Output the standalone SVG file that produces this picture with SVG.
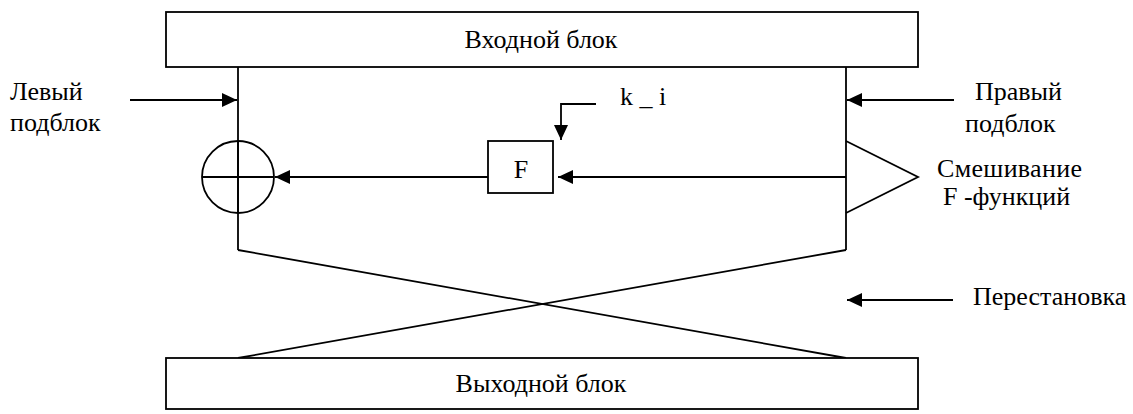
<svg xmlns="http://www.w3.org/2000/svg" width="1133" height="414" viewBox="0 0 1133 414">
<style>
.s{fill:none;stroke:#000;stroke-width:1.8}
.b{fill:#fff;stroke:#000;stroke-width:1.8}
text{font-family:'Liberation Serif','Times New Roman','DejaVu Serif',serif;font-size:26px;fill:#000}
.m{text-anchor:middle}
</style>
<defs>
<marker id="ah" markerUnits="userSpaceOnUse" markerWidth="16" markerHeight="14" refX="15" refY="7" orient="auto">
<path d="M0,0 L15,7 L0,14 Z" fill="#000"/>
</marker>
</defs>
<rect width="1133" height="414" fill="#fff"/>
<g id="connectors">
<line class="s" x1="238" y1="67" x2="238" y2="250"/>
<line class="s" x1="846" y1="67" x2="846" y2="250"/>
<line class="s" x1="238" y1="250" x2="846" y2="358"/>
<line class="s" x1="846" y1="250" x2="238" y2="358"/>
<line class="s" x1="130" y1="100" x2="237" y2="100" marker-end="url(#ah)"/>
<line class="s" x1="954" y1="100" x2="847" y2="100" marker-end="url(#ah)"/>
<line class="s" x1="488" y1="177" x2="275" y2="177" marker-end="url(#ah)"/>
<line class="s" x1="846" y1="177" x2="558" y2="177" marker-end="url(#ah)"/>
<polyline class="s" points="596,104 561,104 561,140" marker-end="url(#ah)"/>
<line class="s" x1="953" y1="300" x2="847" y2="300" marker-end="url(#ah)"/>
</g>
<g id="input-block">
<rect class="b" x="166" y="12" width="752" height="55"/>
<text class="m" x="541" y="48">Входной блок</text>
</g>
<g id="output-block">
<rect class="b" x="166" y="358" width="752" height="51"/>
<text class="m" x="541" y="392">Выходной блок</text>
</g>
<g id="xor">
<circle class="s" cx="238" cy="177" r="36"/>
<line class="s" x1="202" y1="177" x2="274" y2="177"/>
<line class="s" x1="238" y1="141" x2="238" y2="213"/>
</g>
<g id="f-box">
<rect class="b" x="488" y="141" width="65" height="52"/>
<text class="m" x="521" y="178">F</text>
</g>
<g id="mixing">
<polyline class="s" points="846,141 918,177 846,213"/>
</g>
<g id="labels">
<text x="10" y="100">Левый</text>
<text x="10" y="131">подблок</text>
<text x="975" y="100">Правый</text>
<text x="965" y="132">подблок</text>
<text x="937" y="177" textLength="145" lengthAdjust="spacing">Смешивание</text>
<text x="943" y="205">F -функций</text>
<text x="620" y="105">k _ i</text>
<text x="973" y="305">Перестановка</text>
</g>
</svg>
